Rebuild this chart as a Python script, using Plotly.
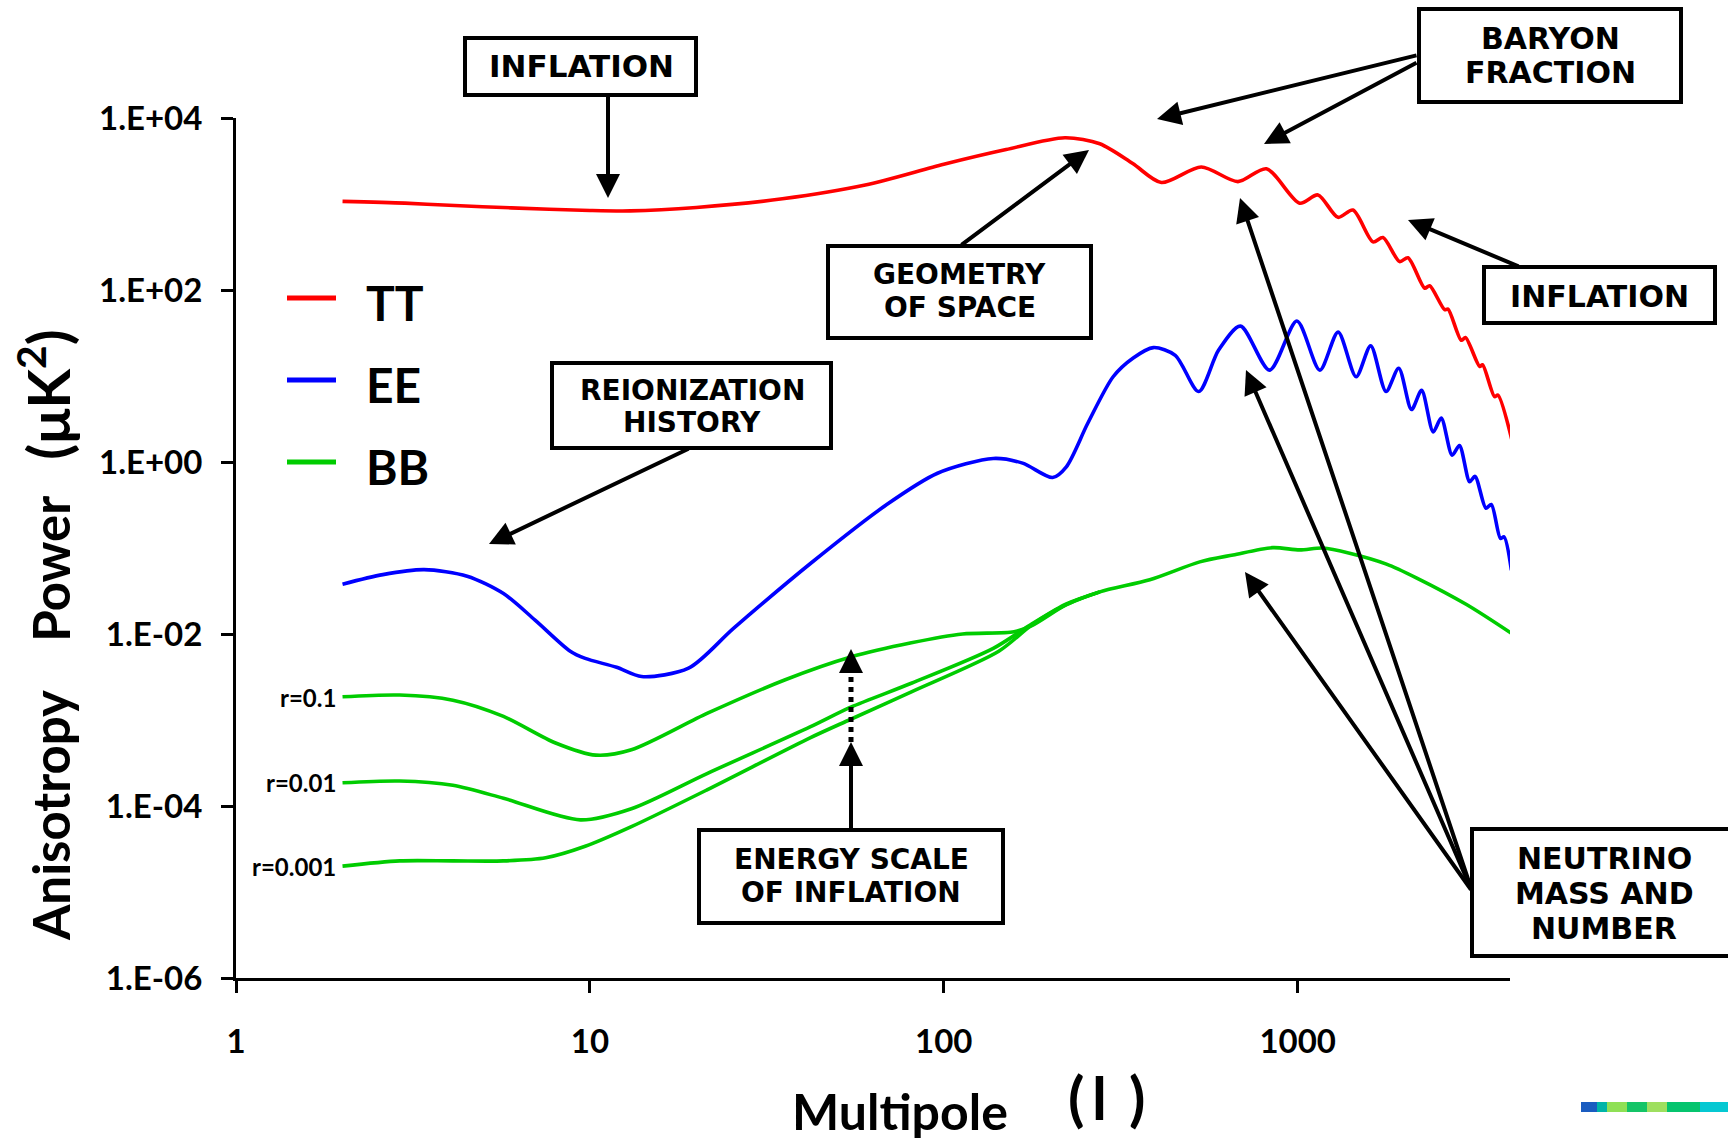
import plotly.graph_objects as go

# ---------------- data ----------------
ell_tt = [2, 3, 4, 6, 10, 13, 20, 35, 60, 100, 150, 220, 276, 342, 412, 534, 678, 816,
          1013, 1141, 1300, 1433, 1632, 1742, 1941, 2050, 2285, 2360, 2602, 2660,
          2900, 2980, 3268, 3330, 3600, 3680, 4050]
cl_tt = [1072, 1023, 966, 902, 841, 832, 912, 1148, 1660, 2900, 4300, 5888, 5012, 2951,
         1778, 2692, 1820, 2570, 1023, 1274, 700, 851, 363, 407, 214, 237, 105, 112,
         59, 60, 26, 28, 12.9, 13.5, 5.75, 6.0, 1.66]

ell_ee = [2, 2.6, 3.4, 4.5, 5.7, 7, 8.8, 9.7, 11.9, 14, 19, 25.5, 42, 69, 96, 138, 167,
          203, 222, 255, 301, 343, 391, 451, 525, 598, 689, 833, 995, 1155, 1301, 1463, 1608,
          1777, 1930, 2097, 2240, 2415, 2545, 2732, 2865, 3062, 3172, 3404, 3525, 3741,
          3830, 4018]
cl_ee = [0.038, 0.049, 0.056, 0.047, 0.0295, 0.0145, 0.0063, 0.0052, 0.0041, 0.0032,
         0.0040, 0.0117, 0.066, 0.32, 0.74, 1.10, 0.97, 0.66, 0.88, 2.8, 9.8, 16.2, 21.4, 17.4,
         6.6, 20, 38, 11.7, 43.6, 11.7, 32.4, 9.8, 22.4, 6.6, 12.3, 4.07, 6.8, 2.24, 3.24,
         1.2, 1.55, 0.59, 0.68, 0.29, 0.32, 0.129, 0.135, 0.055]

ell_bb_r01 = [2, 2.9, 4.1, 5.7, 8, 10.4, 13.1, 21.5, 35.5, 54.6, 81, 113, 158, 178, 222,
              276, 382, 529, 657, 851, 1013, 1178, 1402, 1782, 2164, 3000, 4015]
cl_bb_r01 = [1.86e-3, 1.95e-3, 1.70e-3, 1.10e-3, 5.4e-4, 3.9e-4, 4.5e-4, 1.20e-3, 2.92e-3,
             5.4e-3, 7.9e-3, 1.0e-2, 1.06e-2, 1.26e-2, 2.19e-2, 3.09e-2, 4.27e-2, 6.9e-2,
             8.3e-2, 0.101, 0.095, 0.100, 0.087, 0.065, 0.045, 0.022, 0.0102]

ell_bb_r001 = [2, 2.9, 4.1, 5.7, 9.4, 13.1, 21.5, 41.9, 54.6, 81.3, 138, 178, 222, 276]
cl_bb_r001 = [1.86e-4, 1.95e-4, 1.74e-4, 1.23e-4, 6.9e-5, 9.3e-5, 2.4e-4, 8.3e-4, 1.41e-3,
              2.69e-3, 6.8e-3, 1.32e-2, 2.24e-2, 3.09e-2]

ell_bb_r0001 = [2, 2.9, 4.1, 5.7, 7.5, 9.7, 13.1, 21.5, 41.9, 54.6, 81.3, 143, 178, 222, 276]
cl_bb_r0001 = [2.0e-5, 2.3e-5, 2.3e-5, 2.3e-5, 2.5e-5, 3.4e-5, 5.75e-5, 1.55e-4, 6.2e-4,
               1.02e-3, 2.14e-3, 6.3e-3, 1.29e-2, 2.19e-2, 3.09e-2]

x_tickvals = [1, 10, 100, 1000]
x_ticktext = ["1", "10", "100", "1000"]
y_tickvals = [1e-6, 1e-4, 1e-2, 1, 1e2, 1e4]
y_ticktext = ["1.E-06", "1.E-04", "1.E-02", "1.E+00", "1.E+02", "1.E+04"]

series_names = ["TT", "EE", "BB"]
r_labels = ["r=0.1", "r=0.01", "r=0.001"]

# ---------------- layout helpers (pixel -> paper) ----------------
W, H = 1728, 1143
PX0, PX1, PY0, PY1 = 236, 1510, 118, 978


def px(X):
    return (X - PX0) / (PX1 - PX0)


def py(Y):
    return (PY1 - Y) / (PY1 - PY0)


RED, BLUE, GREEN = "#FF0000", "#0000FF", "#00CC00"
LW = 3.6

fig = go.Figure()


def add_line(xs, ys, color, name):
    fig.add_trace(go.Scatter(
        x=xs, y=ys, mode="lines", name=name, showlegend=False, hoverinfo="skip",
        line=dict(color=color, width=LW, shape="spline", smoothing=0.8)))


add_line(ell_tt, cl_tt, RED, "TT")
add_line(ell_ee, cl_ee, BLUE, "EE")
add_line(ell_bb_r01, cl_bb_r01, GREEN, "BB r=0.1")
add_line(ell_bb_r001, cl_bb_r001, GREEN, "BB r=0.01")
add_line(ell_bb_r0001, cl_bb_r0001, GREEN, "BB r=0.001")

shapes = []
annotations = []

BOX_FONT = "DejaVu Sans"
LAB_FONT = "Lato"


def box(x0, y0, x1, y1):
    shapes.append(dict(type="rect", xref="paper", yref="paper",
                       x0=px(x0), x1=px(x1), y0=py(y1), y1=py(y0),
                       line=dict(color="black", width=4), fillcolor="white", layer="above"))


def text(t, X, Y, size, family=BOX_FONT, xanchor="center", angle=0):
    annotations.append(dict(text=t, x=px(X), y=py(Y), xref="paper", yref="paper",
                            xanchor=xanchor, yanchor="middle", showarrow=False,
                            textangle=angle,
                            font=dict(family=family, size=size, color="black", weight="bold")))


def arrow(tx, ty, hx, hy):
    annotations.append(dict(text="", x=px(hx), y=py(hy), xref="paper", yref="paper",
                            ax=tx - hx, ay=ty - hy, axref="pixel", ayref="pixel",
                            showarrow=True, arrowhead=2, arrowsize=1.2, arrowwidth=4,
                            arrowcolor="black", standoff=0))


# INFLATION (top)
box(465, 38, 696, 95)
text("INFLATION", 581, 66, 31)
arrow(608, 95, 608, 198)

# BARYON FRACTION
box(1419, 9, 1681, 102)
text("BARYON", 1550, 38, 30)
text("FRACTION", 1550, 72, 30)
arrow(1418, 55, 1157, 119)
arrow(1418, 62, 1264, 144)

# GEOMETRY OF SPACE
box(828, 246, 1091, 338)
text("GEOMETRY", 960, 274, 28)
text("OF SPACE", 960, 307, 28)
arrow(960, 246, 1089, 150)

# INFLATION (right)
box(1484, 267, 1715, 323)
text("INFLATION", 1599, 296, 30)
arrow(1520, 267, 1408, 220)

# REIONIZATION HISTORY
box(552, 363, 831, 448)
text("REIONIZATION", 692, 390, 28)
text("HISTORY", 692, 422, 28)
arrow(690, 448, 489, 544)

# ENERGY SCALE OF INFLATION
box(699, 830, 1003, 923)
text("ENERGY SCALE", 851, 859, 28)
text("OF INFLATION", 851, 892, 28)
arrow(851, 830, 851, 742)
shapes.append(dict(type="line", xref="paper", yref="paper", x0=px(851), x1=px(851),
                   y0=py(742), y1=py(668), line=dict(color="black", width=5, dash="dot")))
arrow(851, 672, 851, 649)

# NEUTRINO MASS AND NUMBER
box(1472, 829, 1745, 956)
text("NEUTRINO", 1604, 858, 30)
text("MASS AND", 1604, 893, 30)
text("NUMBER", 1604, 928, 30)
arrow(1472, 891, 1245, 572)
arrow(1472, 891, 1246, 370)
arrow(1472, 891, 1240, 198)

# legend (drawn manually)
for name, color, Y in zip(series_names, [RED, BLUE, GREEN], [298, 380, 462]):
    shapes.append(dict(type="line", xref="paper", yref="paper", x0=px(287), x1=px(336),
                       y0=py(Y), y1=py(Y), line=dict(color=color, width=5)))
    text(name, 364, Y + 4, 48, family=LAB_FONT, xanchor="left")

# r labels
for lab, Y in zip(r_labels, [697, 782, 866]):
    text(lab, 338, Y, 24, family=LAB_FONT, xanchor="right")

# axis titles
nb = "\u00a0"
text("Anisotropy" + nb * 4 + "Power" + nb * 3
     + "<span style='font-size:58px'>(\u03bcK<sup>2</sup>)</span>", 44, 635, 51,
     family=LAB_FONT, angle=-90)
text("Multipole", 900, 1111, 50, family=LAB_FONT)
text("(\u2009l\u00a0\u2009)", 1106, 1097, 60, family=LAB_FONT)

# small colour strip at the bottom right
strip = [(1581, 1597, "#1a5cc0"), (1597, 1607, "#00b4a8"), (1607, 1627, "#8fe055"),
         (1627, 1647, "#14c467"), (1647, 1667, "#9edf5f"), (1667, 1700, "#05c46e"),
         (1700, 1730, "#05c8d2")]
for a, b, c in strip:
    shapes.append(dict(type="rect", xref="paper", yref="paper", x0=px(a), x1=px(b),
                       y0=py(1112), y1=py(1102), line=dict(width=0), fillcolor=c))

axis_common = dict(type="log", showgrid=False, zeroline=False, showline=True,
                   linecolor="black", linewidth=3, ticks="outside", ticklen=12,
                   tickwidth=3, tickcolor="black",
                   tickfont=dict(family=LAB_FONT, size=33, color="black", weight="bold"))

fig.update_layout(
    width=W, height=H, autosize=False,
    margin=dict(l=PX0, r=W - PX1, t=PY0, b=H - PY1, pad=0),
    paper_bgcolor="white", plot_bgcolor="white",
    xaxis=dict(range=[0, 3.6], tickvals=x_tickvals, ticktext=x_ticktext,
               ticklabelstandoff=20, **axis_common),
    yaxis=dict(range=[-6, 4], tickvals=y_tickvals, ticktext=y_ticktext,
               ticklabelstandoff=12, **axis_common),
    shapes=shapes, annotations=annotations, showlegend=False,
)

fig.write_html("out.html", config={"displayModeBar": False})
